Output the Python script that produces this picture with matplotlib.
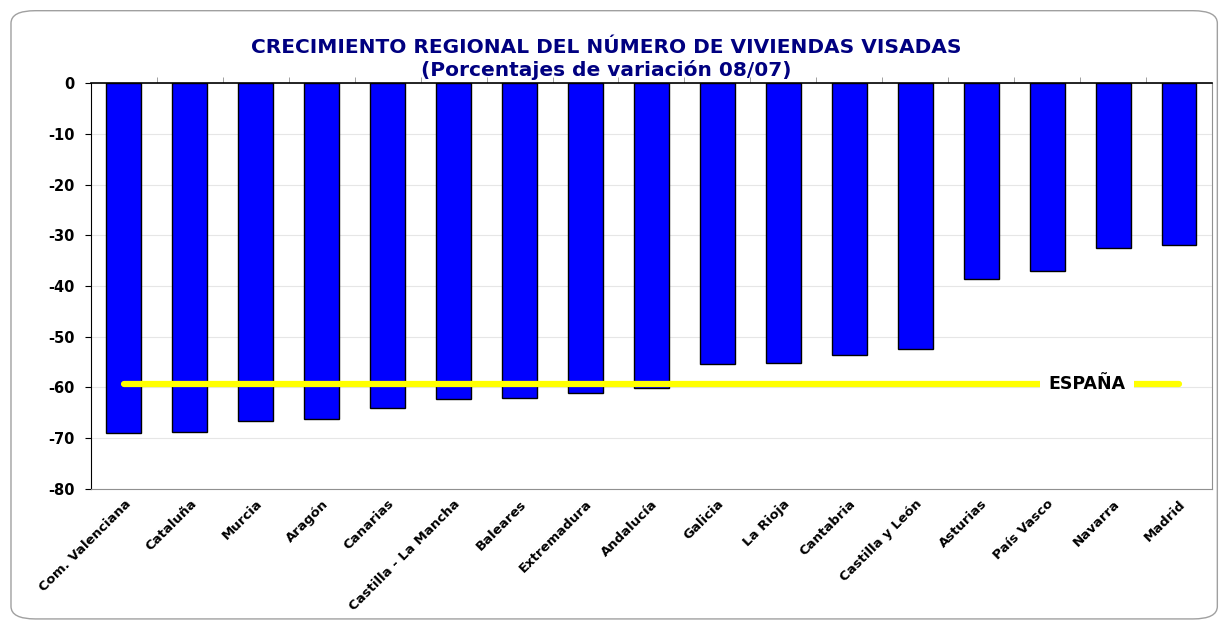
import matplotlib
matplotlib.use("Agg")
import matplotlib.pyplot as plt
from matplotlib.patches import FancyBboxPatch
import numpy as np

regions = ["Com. Valenciana", "Cataluña", "Murcia", "Aragón", "Canarias",
           "Castilla - La Mancha", "Baleares", "Extremadura", "Andalucía",
           "Galicia", "La Rioja", "Cantabria", "Castilla y León", "Asturias",
           "País Vasco", "Navarra", "Madrid"]
variation = [-69.0, -68.8, -66.6, -66.2, -64.0, -62.3, -62.1, -61.1, -60.1,
             -55.4, -55.2, -53.6, -52.4, -38.6, -37.0, -32.5, -31.9]
espana = -59.3
y_ticks = [0, -10, -20, -30, -40, -50, -60, -70, -80]

plt.rcParams['font.family'] = ['DejaVu Sans']

fig = plt.figure(figsize=(12.21, 6.29), dpi=100)
fig.patches.append(FancyBboxPatch((0.009, 0.016), 0.988, 0.967,
                                  boxstyle="round,pad=0,rounding_size=0.02",
                                  transform=fig.transFigure, fill=False,
                                  edgecolor="#a0a0a0", linewidth=1.0))

ax = fig.add_axes([0.0745, 0.2226, 0.9181, 0.6454])
x = np.arange(len(regions))
ax.bar(x, variation, width=0.53, color="#0000ff", edgecolor="black",
       linewidth=1.0, zorder=2)

ax.plot([x[0], x[-1]], [espana, espana], color="#ffff00", linewidth=4.5,
        solid_capstyle="round", zorder=3)
ax.text(14.6, espana, "ESPAÑA", ha="center", va="center", fontsize=12.5,
        fontweight="bold", color="black", zorder=4,
        bbox=dict(facecolor="white", edgecolor="none", pad=6))

ax.set_xlim(-0.5, len(regions) - 0.5)
ax.set_ylim(-80, 0)
ax.set_yticks(y_ticks)
ax.set_yticklabels([str(v) for v in y_ticks], fontsize=10.5, fontweight="bold")
ax.yaxis.grid(True, color="#e6e6e6", linewidth=0.8, zorder=0)
ax.set_axisbelow(True)

ax.set_xticks(x)
ax.set_xticklabels(regions, rotation=45, ha="right", rotation_mode="anchor",
                   fontsize=9.5, fontweight="bold")
ax.tick_params(axis="x", which="major", length=0, pad=6)
ax.set_xticks(np.arange(0.5, len(regions) - 0.5, 1.0), minor=True)
ax.tick_params(axis="x", which="minor", top=True, bottom=False,
               direction="out", length=4, color="#909090")
ax.tick_params(axis="y", length=4, color="black", pad=8)

ax.spines["left"].set_color("black")
ax.spines["top"].set_color("black")
ax.spines["top"].set_linewidth(1.2)
ax.spines["bottom"].set_color("#909090")
ax.spines["right"].set_color("#909090")

fig.text(0.4963, 0.925, "CRECIMIENTO REGIONAL DEL NÚMERO DE VIVIENDAS VISADAS",
         ha="center", va="center", fontsize=14.5, fontweight="bold",
         color="#000080")
fig.text(0.4963, 0.889, "(Porcentajes de variación 08/07)", ha="center",
         va="center", fontsize=14.5, fontweight="bold", color="#000080")

fig.savefig("out.png", dpi=100)
